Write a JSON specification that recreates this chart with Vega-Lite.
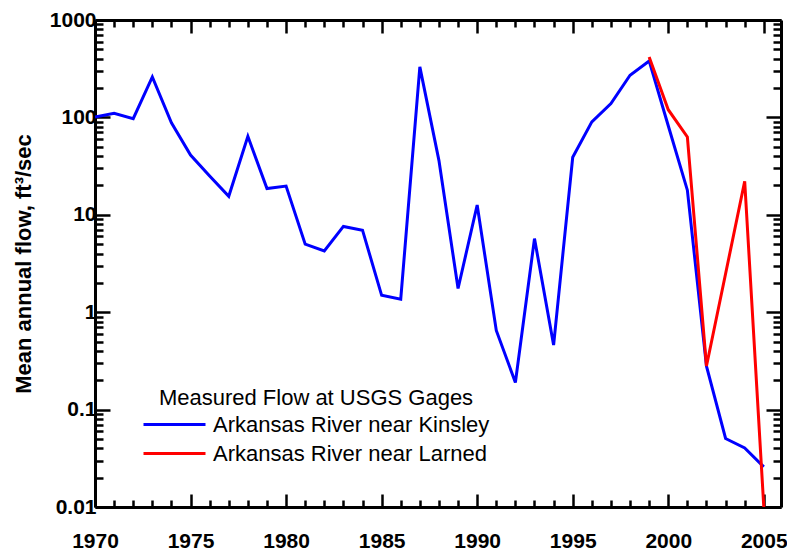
{
  "$schema": "https://vega.github.io/schema/vega-lite/v6.json",
  "autosize": {"type": "none"},
  "padding": {"left": 95, "top": 20, "right": 6, "bottom": 45},
  "width": 686,
  "height": 487,
  "data": {"values": [
    {"year": 1970, "flow": 101, "gage": "Arkansas River near Kinsley"},
    {"year": 1971, "flow": 110, "gage": "Arkansas River near Kinsley"},
    {"year": 1972, "flow": 97, "gage": "Arkansas River near Kinsley"},
    {"year": 1973, "flow": 260, "gage": "Arkansas River near Kinsley"},
    {"year": 1974, "flow": 88, "gage": "Arkansas River near Kinsley"},
    {"year": 1975, "flow": 41, "gage": "Arkansas River near Kinsley"},
    {"year": 1976, "flow": 25, "gage": "Arkansas River near Kinsley"},
    {"year": 1977, "flow": 15.5, "gage": "Arkansas River near Kinsley"},
    {"year": 1978, "flow": 64, "gage": "Arkansas River near Kinsley"},
    {"year": 1979, "flow": 18.6, "gage": "Arkansas River near Kinsley"},
    {"year": 1980, "flow": 19.7, "gage": "Arkansas River near Kinsley"},
    {"year": 1981, "flow": 5.0, "gage": "Arkansas River near Kinsley"},
    {"year": 1982, "flow": 4.26, "gage": "Arkansas River near Kinsley"},
    {"year": 1983, "flow": 7.6, "gage": "Arkansas River near Kinsley"},
    {"year": 1984, "flow": 6.95, "gage": "Arkansas River near Kinsley"},
    {"year": 1985, "flow": 1.49, "gage": "Arkansas River near Kinsley"},
    {"year": 1986, "flow": 1.36, "gage": "Arkansas River near Kinsley"},
    {"year": 1987, "flow": 330, "gage": "Arkansas River near Kinsley"},
    {"year": 1988, "flow": 36, "gage": "Arkansas River near Kinsley"},
    {"year": 1989, "flow": 1.75, "gage": "Arkansas River near Kinsley"},
    {"year": 1990, "flow": 12.6, "gage": "Arkansas River near Kinsley"},
    {"year": 1991, "flow": 0.65, "gage": "Arkansas River near Kinsley"},
    {"year": 1992, "flow": 0.19, "gage": "Arkansas River near Kinsley"},
    {"year": 1993, "flow": 5.7, "gage": "Arkansas River near Kinsley"},
    {"year": 1994, "flow": 0.46, "gage": "Arkansas River near Kinsley"},
    {"year": 1995, "flow": 39, "gage": "Arkansas River near Kinsley"},
    {"year": 1996, "flow": 90, "gage": "Arkansas River near Kinsley"},
    {"year": 1997, "flow": 139, "gage": "Arkansas River near Kinsley"},
    {"year": 1998, "flow": 271, "gage": "Arkansas River near Kinsley"},
    {"year": 1999, "flow": 380, "gage": "Arkansas River near Kinsley"},
    {"year": 2000, "flow": 82, "gage": "Arkansas River near Kinsley"},
    {"year": 2001, "flow": 17.9, "gage": "Arkansas River near Kinsley"},
    {"year": 2002, "flow": 0.279, "gage": "Arkansas River near Kinsley"},
    {"year": 2003, "flow": 0.0505, "gage": "Arkansas River near Kinsley"},
    {"year": 2004, "flow": 0.0404, "gage": "Arkansas River near Kinsley"},
    {"year": 2005, "flow": 0.0258, "gage": "Arkansas River near Kinsley"},
    {"year": 1999, "flow": 418, "gage": "Arkansas River near Larned"},
    {"year": 2000, "flow": 120, "gage": "Arkansas River near Larned"},
    {"year": 2001, "flow": 63, "gage": "Arkansas River near Larned"},
    {"year": 2002, "flow": 0.28, "gage": "Arkansas River near Larned"},
    {"year": 2003, "flow": 2.48, "gage": "Arkansas River near Larned"},
    {"year": 2004, "flow": 22.1, "gage": "Arkansas River near Larned"},
    {"year": 2005, "flow": 0.01, "gage": "Arkansas River near Larned"}
  ]},
  "layer": [
    {
      "mark": {"type": "line", "strokeWidth": 3, "clip": true},
      "encoding": {
        "x": {
          "field": "year", "type": "quantitative",
          "scale": {"domain": [1970, 2005.9], "nice": false, "zero": false},
          "axis": {
            "orient": "bottom",
            "values": [1970,1971,1972,1973,1974,1975,1976,1977,1978,1979,1980,1981,1982,1983,1984,1985,1986,1987,1988,1989,1990,1991,1992,1993,1994,1995,1996,1997,1998,1999,2000,2001,2002,2003,2004,2005],
            "labelExpr": "datum.value % 5 === 0 ? toString(datum.value) : ''",
            "tickSize": {"condition": {"test": "datum.value % 5 === 0", "value": -13}, "value": -7},
            "labelPadding": 36,
            "labelFlush": false,
            "labelOverlap": false,
            "title": null
          }
        },
        "y": {
          "field": "flow", "type": "quantitative",
          "scale": {"type": "log", "domain": [0.01, 1000], "nice": false},
          "axis": {
            "orient": "left",
            "values": [0.01,0.02,0.03,0.04,0.05,0.06,0.07,0.08,0.09,0.1,0.2,0.3,0.4,0.5,0.6,0.7,0.8,0.9,1,2,3,4,5,6,7,8,9,10,20,30,40,50,60,70,80,90,100,200,300,400,500,600,700,800,900,1000],
            "labelExpr": "abs(log(datum.value)/LN10 - round(log(datum.value)/LN10)) < 0.000001 ? format(datum.value, '~g') : ''",
            "tickSize": {"condition": {"test": "abs(log(datum.value)/LN10 - round(log(datum.value)/LN10)) < 0.000001", "value": -15}, "value": -8},
            "labelPadding": 14,
            "labelFlush": false,
            "labelOverlap": false,
            "title": "Mean annual flow, ft³/sec",
            "titleFontSize": 22,
            "titleFontWeight": "bold",
            "titleFont": "Liberation Sans",
            "titleColor": "black",
            "titlePadding": 14
          }
        },
        "color": {
          "field": "gage", "type": "nominal",
          "scale": {"domain": ["Arkansas River near Kinsley", "Arkansas River near Larned"], "range": ["#0000ff", "#ff0000"]},
          "legend": {
            "title": "Measured Flow at USGS Gages",
            "orient": "none",
            "legendX": 47,
            "legendY": 368,
            "padding": 0,
            "titleAnchor": "middle",
            "titleFont": "Liberation Sans",
            "titleFontSize": 22,
            "titleFontWeight": "normal",
            "titleColor": "black",
            "titlePadding": 0,
            "titleLimit": 600,
            "labelLimit": 600,
            "labelFont": "Liberation Sans",
            "labelFontSize": 22,
            "labelColor": "black",
            "labelOffset": 6,
            "symbolType": "stroke",
            "symbolSize": 3844,
            "symbolStrokeWidth": 3,
            "clipHeight": 29,
            "rowPadding": 0
          }
        }
      }
    },
    {
      "mark": {"type": "line", "opacity": 0},
      "encoding": {
        "x": {
          "field": "year", "type": "quantitative",
          "axis": {
            "orient": "top",
            "values": [1970,1971,1972,1973,1974,1975,1976,1977,1978,1979,1980,1981,1982,1983,1984,1985,1986,1987,1988,1989,1990,1991,1992,1993,1994,1995,1996,1997,1998,1999,2000,2001,2002,2003,2004,2005],
            "labels": false,
            "tickSize": {"condition": {"test": "datum.value % 5 === 0", "value": -13}, "value": -7},
            "title": null
          }
        },
        "y": {
          "field": "flow", "type": "quantitative",
          "axis": {
            "orient": "right",
            "values": [0.01,0.02,0.03,0.04,0.05,0.06,0.07,0.08,0.09,0.1,0.2,0.3,0.4,0.5,0.6,0.7,0.8,0.9,1,2,3,4,5,6,7,8,9,10,20,30,40,50,60,70,80,90,100,200,300,400,500,600,700,800,900,1000],
            "labels": false,
            "tickSize": {"condition": {"test": "abs(log(datum.value)/LN10 - round(log(datum.value)/LN10)) < 0.000001", "value": -15}, "value": -8},
            "title": null
          }
        },
        "detail": {"field": "gage"}
      }
    }
  ],
  "resolve": {"axis": {"x": "independent", "y": "independent"}},
  "config": {
    "view": {"stroke": null},
    "axis": {
      "grid": false,
      "domainColor": "black",
      "domainWidth": 3,
      "tickColor": "black",
      "tickWidth": 2.5,
      "labelFont": "Liberation Sans",
      "labelFontWeight": "bold",
      "labelFontSize": 21,
      "labelColor": "black"
    }
  }
}
